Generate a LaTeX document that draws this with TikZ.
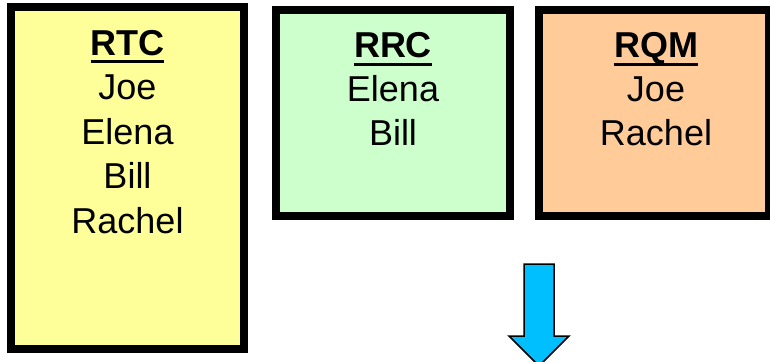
\documentclass[tikz,border=0pt]{standalone}
\usepackage{fontspec}
\setmainfont{Liberation Sans}
\definecolor{rtcfill}{HTML}{FFFF99}
\definecolor{rrcfill}{HTML}{CCFFCC}
\definecolor{rqmfill}{HTML}{FFCC99}
\definecolor{arrowblue}{HTML}{00BFFF}
\newcommand\titleul[1]{\leavevmode\setbox0\hbox{\bfseries #1}\rlap{\rule[-8pt]{\wd0}{3pt}}\box0}
\tikzset{
  teambox/.style={draw=black, line width=8pt},
  teamtext/.style={anchor=north, inner sep=0pt, align=center,
    font=\fontsize{36pt}{44.5pt}\selectfont},
  shorttext/.style={teamtext, font=\fontsize{36pt}{44pt}\selectfont},
}
\begin{document}
\begin{tikzpicture}[x=1pt,y=-1pt]
\useasboundingbox (0,0) rectangle (770,361);
\fill[white] (0,0) rectangle (770,361);
% boxes
\draw[teambox, fill=rtcfill] (11,7) rectangle (244,349);
\coordinate (rtc) at (127.5,30);
\draw[teambox, fill=rrcfill] (276,10) rectangle (510,216);
\coordinate (rrc) at (393,32.5);
\draw[teambox, fill=rqmfill] (539,10) rectangle (769,216);
\coordinate (rqm) at (656,32.5);
% texts
\node[teamtext] (rtctext) at (rtc) {\titleul{RTC}\\Joe\\Elena\\Bill\\Rachel};
\node[shorttext] (rrctext) at (rrc) {\titleul{RRC}\\Elena\\Bill};
\node[shorttext] (rqmtext) at (rqm) {\titleul{RQM}\\Joe\\Rachel};
% arrow
\draw[fill=arrowblue, line width=1.5pt, line join=miter]
  (524,264) -- (554,264) -- (554,336) -- (569,336) -- (539,366)
  -- (509,336) -- (524,336) -- cycle;
\end{tikzpicture}
\end{document}
